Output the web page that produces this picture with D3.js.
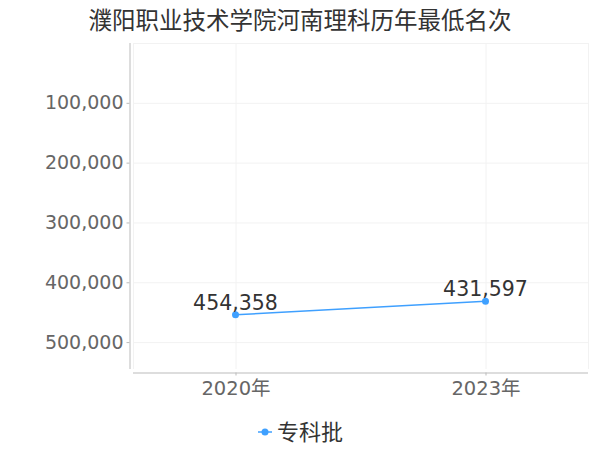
<!DOCTYPE html>
<html lang="zh">
  <head>
    <meta charset="UTF-8">
    <title>濮阳职业技术学院河南理科历年最低名次</title>
    <style>
      body { margin: 0; background: #fff; }
      text { font-family: "DejaVu Sans", "Noto Sans CJK SC", sans-serif; }
      .grid line { stroke: #f2f2f2; stroke-width: 1px; }
      .axis path, .axis line { stroke: #bbb; }
      .axis text { fill: #666; font-size: 19px; }
      .x-axis text { font-size: 19.5px; }
      .label { fill: #333; font-size: 20.5px; }
    </style>
  </head>
  <body>
    <script src="https://d3js.org/d3.v7.min.js"></script>
    <script>
      const title = "濮阳职业技术学院河南理科历年最低名次";
      const years = ["2020年", "2023年"];
      const ranks = [454358, 431597];
      const seriesName = "专科批";
      const yTicks = [100000, 200000, 300000, 400000, 500000];

      const width = 600, height = 450;
      const margin = { top: 43, right: 12, bottom: 81, left: 133 };
      const color = "#3fa0ff";

      const svg = d3.select("body").append("svg")
        .attr("width", width)
        .attr("height", height);

      svg.append("text")
        .attr("x", 300)
        .attr("y", 29)
        .attr("text-anchor", "middle")
        .style("font-family", "'Noto Sans CJK SC', sans-serif")
        .style("font-size", "23.5px")
        .style("fill", "#333")
        .text(title);

      const x = d3.scalePoint()
        .domain(years)
        .range([margin.left, width - margin.right])
        .padding(0.41);

      // rank axis is reversed: 0 at the top
      const y = d3.scaleLinear()
        .domain([0, 550000])
        .range([margin.top, height - margin.bottom + 3]);

      const grid = svg.append("g").attr("class", "grid");
      grid.selectAll("line.h")
        .data([0].concat(yTicks))
        .enter().append("line")
        .attr("x1", margin.left).attr("x2", width - margin.right)
        .attr("y1", d => y(d) + 0.5).attr("y2", d => y(d) + 0.5);
      grid.selectAll("line.v")
        .data([margin.left, width - margin.right])
        .enter().append("line")
        .attr("x1", d => d + 0.5).attr("x2", d => d + 0.5)
        .attr("y1", margin.top).attr("y2", height - margin.bottom);
      grid.selectAll("line.c")
        .data(years)
        .enter().append("line")
        .attr("x1", d => x(d) + 0.5).attr("x2", d => x(d) + 0.5)
        .attr("y1", margin.top).attr("y2", height - margin.bottom);

      // y axis
      const yAxis = svg.append("g")
        .attr("class", "axis")
        .attr("transform", `translate(${margin.left - 3.5},0)`)
        .call(d3.axisLeft(y).tickValues(yTicks).tickSize(3).tickPadding(3)
          .tickFormat(d3.format(",")));
      yAxis.select(".domain").attr("d", `M0.5,${margin.top}V${height - margin.bottom}`);

      // x axis
      const xAxis = svg.append("g")
        .attr("class", "axis x-axis")
        .attr("transform", `translate(0,${height - margin.bottom + 3.5})`)
        .call(d3.axisBottom(x).tickSize(3).tickPadding(6));
      xAxis.select(".domain").attr("d", `M${margin.left},0.5H${width - margin.right}`);

      const pts = years.map((d, i) => ({ year: d, value: ranks[i] }));

      svg.append("path")
        .datum(pts)
        .attr("fill", "none")
        .attr("stroke", color)
        .attr("stroke-width", 1.5)
        .attr("d", d3.line().x(d => x(d.year)).y(d => y(d.value)));

      svg.selectAll("circle.pt")
        .data(pts)
        .enter().append("circle")
        .attr("cx", d => x(d.year))
        .attr("cy", d => y(d.value))
        .attr("r", 3.5)
        .attr("fill", color);

      svg.selectAll("text.label")
        .data(pts)
        .enter().append("text")
        .attr("class", "label")
        .attr("x", d => x(d.year))
        .attr("y", d => y(d.value) - 5)
        .attr("text-anchor", "middle")
        .text(d => d3.format(",")(d.value));

      // legend
      const lg = svg.append("g").attr("transform", "translate(258,432)");
      lg.append("line")
        .attr("x1", 0).attr("x2", 14)
        .attr("stroke", color).attr("stroke-width", 1.5);
      lg.append("circle").attr("cx", 7).attr("r", 3.5).attr("fill", color);
      lg.append("text")
        .attr("x", 19)
        .attr("dy", "0.35em")
        .style("font-family", "'Noto Sans CJK SC', sans-serif")
        .style("font-size", "22px")
        .style("fill", "#333")
        .text(seriesName);
    </script>
  </body>
</html>
